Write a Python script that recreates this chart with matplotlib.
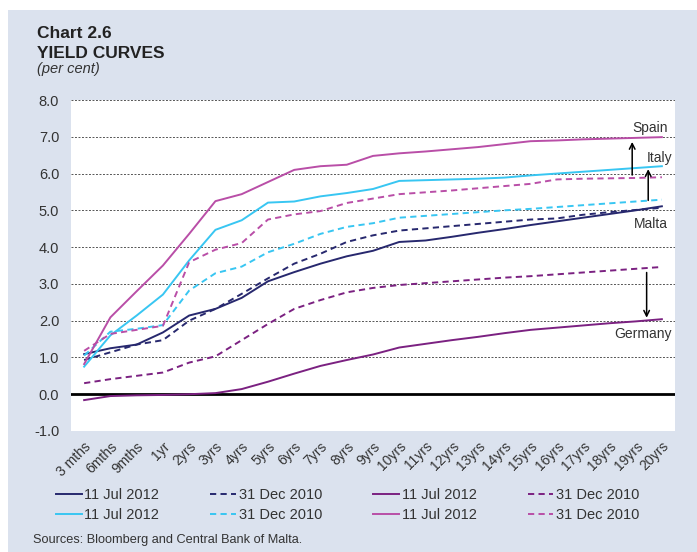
import matplotlib
matplotlib.use("Agg")
import matplotlib.pyplot as plt
from matplotlib.patches import Rectangle
import numpy as np

plt.rcParams['font.family'] = ['Liberation Sans', 'DejaVu Sans']

# maturities on the x axis
maturities = ['3 mths', '6mths', '9mths', '1yr'] + [f'{i}yrs' for i in range(2, 21)]

# yields, per cent
malta_2012 = [1.09, 1.25, 1.35, 1.68, 2.14, 2.32, 2.62, 3.07, 3.32, 3.55, 3.75, 3.90, 4.14,
              4.18, 4.28, 4.39, 4.49, 4.60, 4.70, 4.80, 4.90, 5.00, 5.11]
malta_2010 = [0.93, 1.14, 1.35, 1.47, 2.00, 2.32, 2.73, 3.15, 3.55, 3.82, 4.14, 4.32, 4.45,
              4.51, 4.57, 4.63, 4.69, 4.75, 4.78, 4.88, 4.95, 5.01, 5.07]
germany_2012 = [-0.16, -0.05, -0.03, -0.02, 0.00, 0.03, 0.14, 0.34, 0.56, 0.77, 0.93, 1.08, 1.27,
                1.37, 1.47, 1.56, 1.66, 1.75, 1.81, 1.87, 1.93, 1.98, 2.04]
germany_2010 = [0.30, 0.41, 0.50, 0.59, 0.86, 1.03, 1.47, 1.91, 2.32, 2.56, 2.77, 2.89, 2.97,
                3.02, 3.07, 3.12, 3.17, 3.21, 3.26, 3.31, 3.36, 3.41, 3.46]
italy_2012 = [0.75, 1.60, 2.14, 2.71, 3.64, 4.47, 4.73, 5.21, 5.24, 5.38, 5.47, 5.58, 5.80,
              5.82, 5.84, 5.86, 5.89, 5.95, 6.00, 6.05, 6.10, 6.15, 6.20]
italy_2010 = [1.05, 1.70, 1.78, 1.88, 2.82, 3.29, 3.47, 3.86, 4.09, 4.36, 4.55, 4.65, 4.80,
              4.85, 4.90, 4.95, 5.00, 5.04, 5.09, 5.14, 5.19, 5.24, 5.29]
spain_2012 = [0.82, 2.09, 2.80, 3.50, 4.36, 5.25, 5.44, 5.77, 6.10, 6.20, 6.24, 6.48, 6.55,
              6.60, 6.66, 6.72, 6.80, 6.88, 6.90, 6.93, 6.95, 6.97, 6.99]
spain_2010 = [1.18, 1.64, 1.75, 1.86, 3.59, 3.93, 4.11, 4.75, 4.89, 4.98, 5.20, 5.32, 5.44,
              5.49, 5.54, 5.60, 5.66, 5.72, 5.84, 5.86, 5.87, 5.88, 5.90]

navy = '#27286e'
purple = '#7b2181'
cyan = '#38c6f2'
pink = '#b94ea7'
bg = '#dbe2ee'
txt = '#333333'

fig = plt.figure(figsize=(6.97, 5.52), dpi=100)
fig.patch.set_facecolor('white')
fig.patches.append(Rectangle((8 / 697, 0), 1, 1 - 10 / 552, transform=fig.transFigure,
                             facecolor=bg, edgecolor='none', zorder=-10))

ax = fig.add_axes([71 / 697, 1 - 431 / 552, 604 / 697, 331 / 552])
ax.set_facecolor('white')

x = np.arange(len(maturities))
dash = (0, (3.2, 2.2))
lw = 1.4

h = {}
h['m12'], = ax.plot(x, malta_2012, color=navy, lw=lw, label='11 Jul 2012')
h['m10'], = ax.plot(x, malta_2010, color=navy, lw=lw, ls=dash, label='31 Dec 2010')
h['g12'], = ax.plot(x, germany_2012, color=purple, lw=lw, label='11 Jul 2012')
h['g10'], = ax.plot(x, germany_2010, color=purple, lw=lw, ls=dash, label='31 Dec 2010')
h['i12'], = ax.plot(x, italy_2012, color=cyan, lw=lw, label='11 Jul 2012')
h['i10'], = ax.plot(x, italy_2010, color=cyan, lw=lw, ls=dash, label='31 Dec 2010')
h['s12'], = ax.plot(x, spain_2012, color=pink, lw=lw, label='11 Jul 2012')
h['s10'], = ax.plot(x, spain_2010, color=pink, lw=lw, ls=dash, label='31 Dec 2010')

ax.set_xlim(-0.5, len(maturities) - 0.5)
ax.set_ylim(-1.0, 8.0)
ax.set_yticks(np.arange(-1, 9, 1))
ax.set_yticklabels([f'{v:.1f}' for v in np.arange(-1, 9, 1)])
ax.set_xticks(x)
ax.set_xticklabels(maturities, rotation=45, ha='right', rotation_mode='anchor')

for v in np.arange(-1, 9, 1):
    if v != 0:
        ax.axhline(v, color='#555555', lw=0.7, ls=(0, (2, 1.6)), zorder=0)
ax.axhline(0, color='black', lw=2.0, zorder=1)

for s in ax.spines.values():
    s.set_visible(False)
ax.tick_params(axis='both', length=0, colors=txt)
ax.tick_params(axis='y', pad=8.5, labelsize=10.5)
ax.tick_params(axis='x', pad=6, labelsize=10)

# spread arrows and country labels
arrow_kw = dict(arrowstyle='->', color='black', lw=1.1, shrinkA=0, shrinkB=0)
ax.annotate('', xy=(20.87, 6.86), xytext=(20.87, 5.96), arrowprops=arrow_kw)
ax.annotate('', xy=(21.48, 6.12), xytext=(21.48, 5.27), arrowprops=arrow_kw)
ax.annotate('', xy=(21.42, 2.08), xytext=(21.42, 3.31), arrowprops=arrow_kw)

lab_kw = dict(fontsize=10, color=txt, va='center', ha='right')
ax.text(22.21, 7.24, 'Spain', **lab_kw)
ax.text(22.40, 6.42, 'Italy', **lab_kw)
ax.text(22.21, 4.64, 'Malta', **lab_kw)
ax.text(22.36, 1.64, 'Germany', **lab_kw)

# titles
fig.text(37 / 697, 1 - 38 / 552, 'Chart 2.6', fontsize=12.5, fontweight='bold',
         color='#222222', va='baseline')
fig.text(37 / 697, 1 - 58 / 552, 'YIELD CURVES', fontsize=12.5, fontweight='bold',
         color='#222222', va='baseline')
fig.text(37 / 697, 1 - 73 / 552, '(per cent)', fontsize=10.5, style='italic',
         color=txt, va='baseline')

order = ['m12', 'i12', 'm10', 'i10', 'g12', 's12', 'g10', 's10']
leg = fig.legend([h[k] for k in order], [h[k].get_label() for k in order],
                 ncol=4, loc='upper left', bbox_to_anchor=(56 / 697, 1 - 488 / 552),
                 frameon=False, fontsize=10.5, handlelength=1.75, handletextpad=0.2,
                 columnspacing=3.5, labelspacing=0.4, borderaxespad=0, borderpad=0)
for t in leg.get_texts():
    t.set_color(txt)

fig.text(33 / 697, 1 - 540 / 552, 'Sources: Bloomberg and Central Bank of Malta.',
         fontsize=9.2, color=txt, va='center')

fig.savefig('out.png', dpi=100, facecolor=fig.get_facecolor())
